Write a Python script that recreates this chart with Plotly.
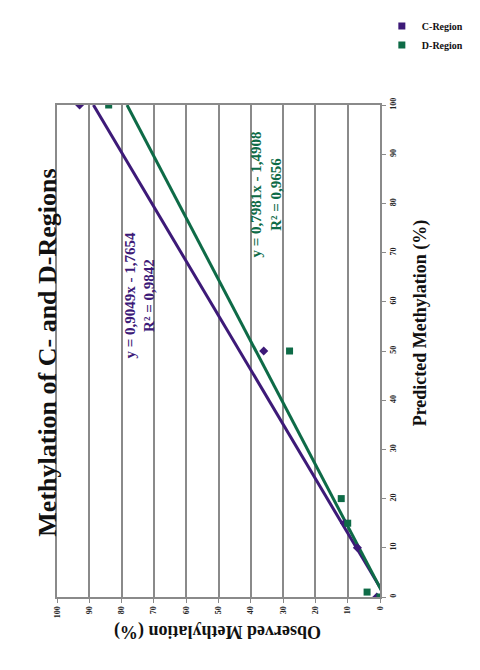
import plotly.graph_objects as go

# Measured methylation standards (predicted % vs observed %)
c_predicted = [0, 10, 15, 50, 100]
c_observed = [1, 7, 11, 36, 93]
d_predicted = [0, 1, 15, 20, 50, 100]
d_observed = [0, 4, 10, 12, 28, 84]

# Linear trendline coefficients (slope, intercept) and fit quality
c_fit = (0.9049, -1.7654)
c_r2 = 0.9842
d_fit = (0.7981, -1.4908)
d_r2 = 0.9656

axis_ticks = list(range(0, 101, 10))

C_COLOR = "#3d1a78"
D_COLOR = "#0e6b47"
GRID = "#8a8a8a"
SERIF = "Liberation Serif"

W, H = 480, 670
L, R, T, B = 57, 72, 97, 73
PW, PH = W - L - R, H - T - B


def px(x, y):
    """Pixel position -> paper coordinates."""
    return (x - L) / PW, (H - B - y) / PH


def fmt(v):
    return f"{abs(v):.4f}".replace(".", ",")


fig = go.Figure()

line_pred = [0, 100]
for name, fit, color in (("C-Region", c_fit, C_COLOR), ("D-Region", d_fit, D_COLOR)):
    slope, icpt = fit
    fig.add_trace(go.Scatter(
        x=[slope * p + icpt for p in line_pred], y=line_pred,
        mode="lines", line=dict(color=color, width=3),
        showlegend=False, hoverinfo="skip"))

fig.add_trace(go.Scatter(
    x=c_observed, y=c_predicted, mode="markers", name="C-Region",
    marker=dict(symbol="diamond", size=7, color=C_COLOR), showlegend=False))
fig.add_trace(go.Scatter(
    x=d_observed, y=d_predicted, mode="markers", name="D-Region",
    marker=dict(symbol="square", size=7, color=D_COLOR), showlegend=False))

# Legend entries with square swatches
for name, color in (("C-Region", C_COLOR), ("D-Region", D_COLOR)):
    fig.add_trace(go.Scatter(
        x=[None], y=[None], mode="markers", name=name,
        marker=dict(symbol="square", size=7, color=color)))

annotations = []

tx, ty = px(29, 349)
annotations.append(dict(
    text="<b>Methylation of C- and D-Regions</b>", x=tx, y=ty,
    xref="paper", yref="paper", showarrow=False, textangle=-90,
    font=dict(family=SERIF, size=26, color="#111111")))

ox, oy = px(232, 645)
annotations.append(dict(
    text="<b>Observed Methylation (%)</b>", x=ox, y=oy,
    xref="paper", yref="paper", showarrow=False, textangle=180,
    font=dict(family=SERIF, size=18, color="#111111")))

pxx, pyy = px(466, 318)
annotations.append(dict(
    text="<b>Predicted Methylation (%)</b>", x=pxx, y=pyy,
    xref="paper", yref="paper", showarrow=False, textangle=-90,
    font=dict(family=SERIF, size=18, color="#111111")))

annotations.append(dict(
    text=f"<b>y = {fmt(c_fit[0])}x - {fmt(c_fit[1])}<br>R² = {fmt(c_r2)}</b>",
    x=74.4, y=61.4, xref="x", yref="y", showarrow=False, textangle=-90,
    font=dict(family=SERIF, size=15, color=C_COLOR)))
annotations.append(dict(
    text=f"<b>y = {fmt(d_fit[0])}x - {fmt(d_fit[1])}<br>R² = {fmt(d_r2)}</b>",
    x=35.3, y=81.8, xref="x", yref="y", showarrow=False, textangle=-90,
    font=dict(family=SERIF, size=15, color=D_COLOR)))

lx, ly = px(410, 2)

fig.update_layout(
    width=W, height=H,
    margin=dict(l=L, r=R, t=T, b=B),
    paper_bgcolor="white", plot_bgcolor="white",
    annotations=annotations,
    legend=dict(x=lx, y=ly, xanchor="left", yanchor="top",
                font=dict(family=SERIF, size=10, color="#111111", weight="bold"),
                bgcolor="rgba(0,0,0,0)", itemwidth=30, tracegroupgap=0),
    xaxis=dict(
        range=[100, 0], tickvals=axis_ticks, tickangle=-90,
        ticks="outside", ticklen=4, tickcolor=GRID,
        showgrid=True, gridcolor=GRID, gridwidth=2,
        showline=True, linecolor=GRID, linewidth=2, mirror=True,
        zeroline=False,
        tickfont=dict(family=SERIF, size=8, color="#222222", weight="bold")),
    yaxis=dict(
        range=[0, 100], tickvals=axis_ticks, tickangle=-90, side="right",
        ticks="outside", ticklen=4, tickcolor=GRID,
        showgrid=False, showline=True, linecolor=GRID, linewidth=2,
        mirror=True, zeroline=False,
        tickfont=dict(family=SERIF, size=8, color="#222222", weight="bold")),
)

fig.write_html("out.html")
